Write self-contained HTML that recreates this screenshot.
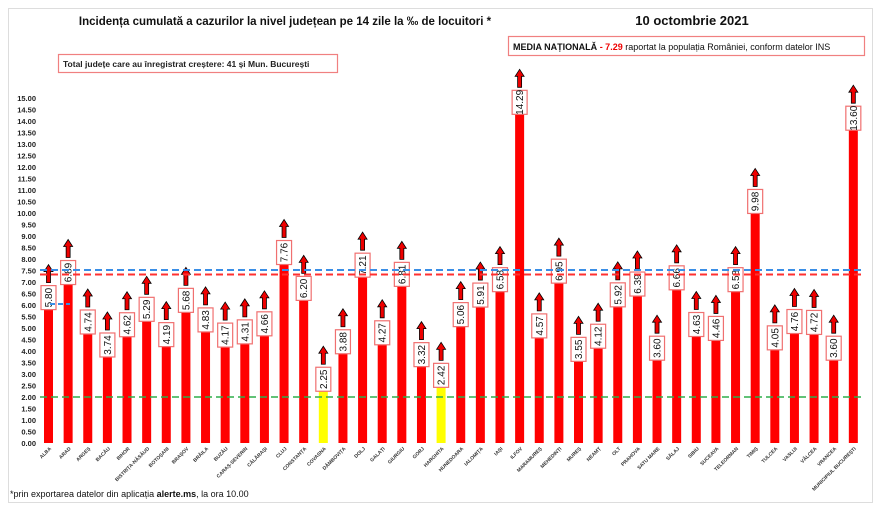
<!DOCTYPE html>
<html><head><meta charset="utf-8"><style>
body{margin:0;background:#fff;}
svg{display:block;font-family:"Liberation Sans",sans-serif;}
</style></head><body>
<svg id="s" width="880" height="510" xmlns="http://www.w3.org/2000/svg">
<rect x="8.5" y="8.5" width="864" height="494" fill="#fff" stroke="#ddd"/>
<text x="285" y="25" font-size="11.5" font-weight="bold" text-anchor="middle" fill="#111">Incidența cumulată a cazurilor la nivel județean pe 14 zile la ‰ de locuitori *</text>
<text x="692" y="25" font-size="13" font-weight="bold" text-anchor="middle" fill="#111">10 octombrie 2021</text>
<rect x="508.5" y="36.5" width="356" height="19" fill="#fff" stroke="#f08080" stroke-width="1.2"/>
<text x="513" y="50" font-size="9" fill="#111"><tspan font-weight="bold">MEDIA NAȚIONALĂ</tspan>  <tspan fill="#e00" font-weight="bold">- 7.29</tspan> raportat la populația României, conform datelor INS</text>
<rect x="58.5" y="54.5" width="279" height="18" fill="#fff" stroke="#f08080" stroke-width="1.2"/>
<text x="63" y="67" font-size="8.5" font-weight="bold" fill="#222">Total județe care au înregistrat creștere:  41 și Mun. București</text>
<text x="10" y="497" font-size="9" fill="#111">*prin exportarea datelor din aplicația <tspan font-weight="bold">alerte.ms</tspan>, la ora 10.00</text>
<g id="g"></g>
</svg>
<script>
var d=[["ALBA",5.80],["ARAD",6.89],["ARGEȘ",4.74],["BACĂU",3.74],["BIHOR",4.62],["BISTRIȚA-NĂSĂUD",5.29],["BOTOȘANI",4.19],["BRAȘOV",5.68],["BRĂILA",4.83],["BUZĂU",4.17],["CARAȘ-SEVERIN",4.31],["CĂLĂRAȘI",4.66],["CLUJ",7.76],["CONSTANȚA",6.20],["COVASNA",2.25],["DÂMBOVIȚA",3.88],["DOLJ",7.21],["GALAȚI",4.27],["GIURGIU",6.81],["GORJ",3.32],["HARGHITA",2.42],["HUNEDOARA",5.06],["IALOMIȚA",5.91],["IAȘI",6.58],["ILFOV",14.29],["MARAMUREȘ",4.57],["MEHEDINȚI",6.95],["MUREȘ",3.55],["NEAMȚ",4.12],["OLT",5.92],["PRAHOVA",6.39],["SATU MARE",3.60],["SĂLAJ",6.66],["SIBIU",4.63],["SUCEAVA",4.46],["TELEORMAN",6.58],["TIMIȘ",9.98],["TULCEA",4.05],["VASLUI",4.76],["VÂLCEA",4.72],["VRANCEA",3.60],["MUNICIPIUL BUCUREȘTI",13.60]];
var y0=443,k=23,h='';
for(var i=0;i<=30;i++){var v=i*0.5,y=y0-v*k;h+='<text x="36" y="'+(y+3)+'" font-size="7.5" font-weight="bold" fill="#222" text-anchor="end">'+v.toFixed(2)+'</text>';}
d.forEach(function(e,i){
 var cx=48.5+i*19.63,top=y0-e[1]*k,col=(i==14||i==20)?'#ffff00':'#ff0000';
 h+='<rect x="'+(cx-4.5)+'" y="'+top+'" width="9" height="'+(y0-top)+'" fill="'+col+'"/>';
 var bt=top-24;
 h+='<rect x="'+(cx-7.5)+'" y="'+bt+'" width="15" height="24" fill="#fff" stroke="#f07070" stroke-width="1.2"/>';
 h+='<text transform="translate('+(cx+3.5)+','+(top-12)+') rotate(-90)" font-size="10" text-anchor="middle" fill="#111">'+e[1].toFixed(2)+'</text>';
 var ay=bt-3,at=ay-18;
 h+='<path d="M'+(cx-2)+','+ay+' L'+(cx-2)+','+(at+7)+' L'+(cx-4.5)+','+(at+7)+' L'+cx+','+at+' L'+(cx+4.5)+','+(at+7)+' L'+(cx+2)+','+(at+7)+' L'+(cx+2)+','+ay+' Z" fill="#e00" stroke="#000" stroke-width="0.8"/>';
 h+='<text transform="translate('+(cx+3)+',449) rotate(-45)" font-size="5" font-weight="bold" text-anchor="end" fill="#333">'+e[0]+'</text>';
});
h+='<line x1="40" y1="270" x2="862" y2="270" stroke="#3a8ee6" stroke-width="2" stroke-dasharray="7,4"/>';
h+='<line x1="40" y1="274.5" x2="862" y2="274.5" stroke="#ff3030" stroke-width="2" stroke-dasharray="7,4"/>';
h+='<line x1="40" y1="397" x2="862" y2="397" stroke="#2eae4a" stroke-width="1.5" stroke-dasharray="7,4"/>';
h+='<line x1="50" y1="304" x2="70" y2="304" stroke="#3a8ee6" stroke-width="2" stroke-dasharray="5,3"/>';
document.getElementById('g').innerHTML=h;
</script>
</body></html>
